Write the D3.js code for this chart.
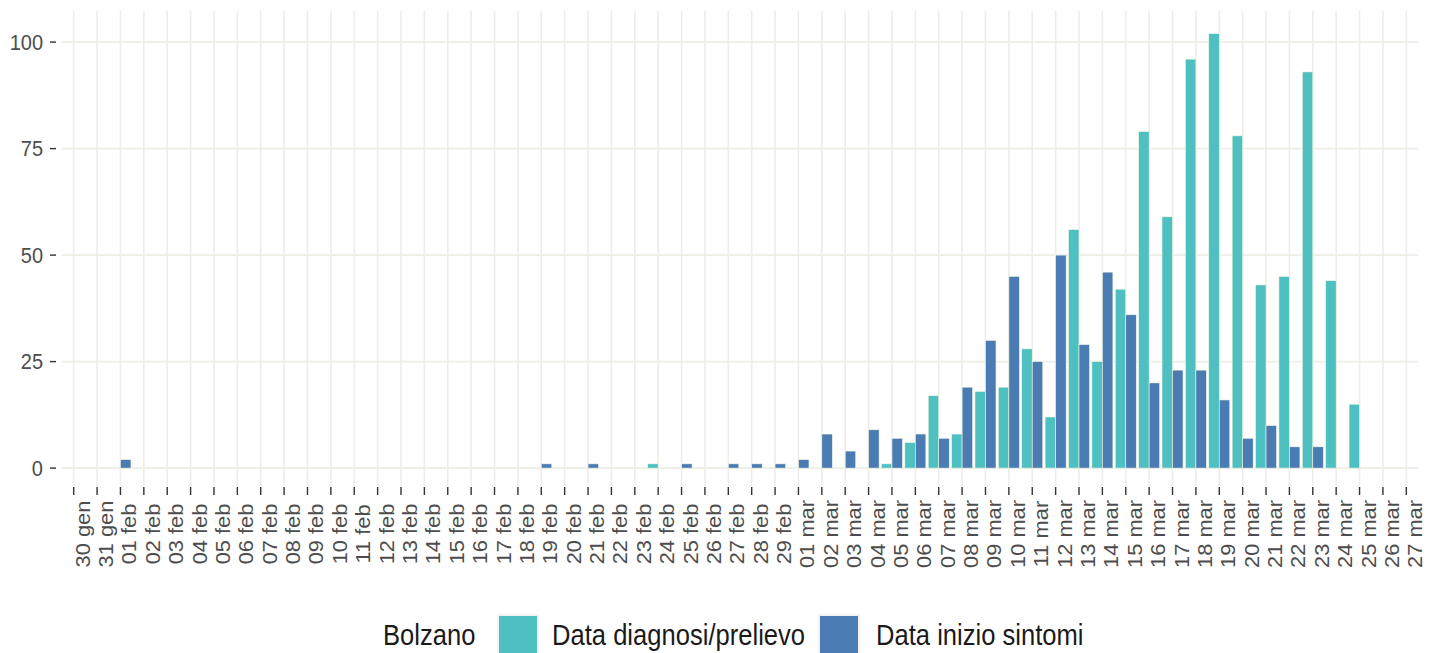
<!DOCTYPE html>
<html>
<head>
<meta charset="utf-8">
<script src="https://cdn.jsdelivr.net/npm/d3@7"></script>
<style>
  body { margin: 0; background: #fff; }
  text { font-family: "Liberation Sans", Arial, sans-serif; }
</style>
</head>
<body>
<div id="chart"></div>
<script>
// etichette giornaliere (30 gen - 27 mar)
const dayLabels = [
  "30 gen", "31 gen",
  "01 feb", "02 feb", "03 feb", "04 feb", "05 feb", "06 feb", "07 feb", "08 feb", "09 feb", "10 feb",
  "11 feb", "12 feb", "13 feb", "14 feb", "15 feb", "16 feb", "17 feb", "18 feb", "19 feb", "20 feb",
  "21 feb", "22 feb", "23 feb", "24 feb", "25 feb", "26 feb", "27 feb", "28 feb", "29 feb",
  "01 mar", "02 mar", "03 mar", "04 mar", "05 mar", "06 mar", "07 mar", "08 mar", "09 mar", "10 mar",
  "11 mar", "12 mar", "13 mar", "14 mar", "15 mar", "16 mar", "17 mar", "18 mar", "19 mar", "20 mar",
  "21 mar", "22 mar", "23 mar", "24 mar", "25 mar", "26 mar", "27 mar"
];

// Data diagnosi/prelievo
const diagnosi = [
  null, null,
  0, 0, 0, 0, 0, 0, 0, 0, 0, 0,
  0, 0, 0, 0, 0, 0, 0, 0, 0, 0,
  0, 0, 0, 1, 0, 0, 0, 0, 0,
  0, 0, 0, 0, 1, 6, 17, 8, 18, 19,
  28, 12, 56, 25, 42, 79, 59, 96, 102, 78,
  43, 45, 93, 44, 15, null, null
];

// Data inizio sintomi
const sintomi = [
  null, null,
  2, 0, 0, 0, 0, 0, 0, 0, 0, 0,
  0, 0, 0, 0, 0, 0, 0, 0, 1, 0,
  1, 0, 0, 0, 1, 0, 1, 1, 1,
  2, 8, 4, 9, 7, 8, 7, 19, 30, 45,
  25, 50, 29, 46, 36, 20, 23, 23, 16, 7,
  10, 5, 5, 0, null, null, null
];

const yTicks = [0, 25, 50, 75, 100];
const seriesNames = ["Data diagnosi/prelievo", "Data inizio sintomi"];
const seriesColors = ["#4fc0c1", "#4a7cb3"];
const legendTitle = "Bolzano";

const W = 1437, H = 653;
const panel = { left: 62, right: 1418, top: 11, bottom: 486 };
const sy = 1.12; // leggero allungamento verticale del testo

const svg = d3.select("#chart").append("svg")
  .attr("width", W)
  .attr("height", H);

const x = d3.scalePoint()
  .domain(dayLabels)
  .range([panel.left, panel.right])
  .padding(0.5);

const y = d3.scaleLinear()
  .domain([-4.2, 107.3])
  .range([panel.bottom, panel.top]);

const bw = x.step() * 0.45;

// griglia
const grid = svg.append("g");
grid.selectAll("line.v")
  .data(dayLabels)
  .join("line")
  .attr("x1", d => x(d)).attr("x2", d => x(d))
  .attr("y1", panel.top).attr("y2", panel.bottom)
  .attr("stroke", "#eeede6")
  .attr("stroke-width", 1.6);
grid.selectAll("line.h")
  .data(yTicks)
  .join("line")
  .attr("x1", panel.left).attr("x2", panel.right)
  .attr("y1", d => y(d)).attr("y2", d => y(d))
  .attr("stroke", "#eeede6")
  .attr("stroke-width", 1.6);

// barre
const rows = [];
dayLabels.forEach((d, i) => {
  if (diagnosi[i] !== null) rows.push({ day: d, value: diagnosi[i], s: 0 });
  if (sintomi[i] !== null) rows.push({ day: d, value: sintomi[i], s: 1 });
});

svg.append("g")
  .selectAll("rect")
  .data(rows)
  .join("rect")
  .attr("x", d => x(d.day) + (d.s === 0 ? -bw : 0))
  .attr("y", d => y(d.value))
  .attr("width", bw)
  .attr("height", d => y(0) - y(d.value))
  .attr("fill", d => seriesColors[d.s])
  .attr("stroke", "#f4f7e2")
  .attr("stroke-width", 0.6);

// asse x
const xAxis = svg.append("g");
xAxis.selectAll("line")
  .data(dayLabels)
  .join("line")
  .attr("x1", d => x(d)).attr("x2", d => x(d))
  .attr("y1", panel.bottom + 1).attr("y2", panel.bottom + 9)
  .attr("stroke", "#333")
  .attr("stroke-width", 1.4);
xAxis.selectAll("text")
  .data(dayLabels)
  .join("text")
  .attr("transform", d => `translate(${x(d) + 16},534) scale(1,${sy}) rotate(-90)`)
  .attr("text-anchor", "middle")
  .attr("font-size", 19.5)
  .attr("fill", "#4d4d4d")
  .text(d => d);

// asse y
const yAxis = svg.append("g");
yAxis.selectAll("line")
  .data(yTicks)
  .join("line")
  .attr("x1", 50).attr("x2", 56)
  .attr("y1", d => y(d)).attr("y2", d => y(d))
  .attr("stroke", "#333")
  .attr("stroke-width", 1.4);
yAxis.selectAll("text")
  .data(yTicks)
  .join("text")
  .attr("transform", d => `translate(43,${y(d) + 7.5}) scale(1,${sy})`)
  .attr("text-anchor", "end")
  .attr("font-size", 20)
  .attr("fill", "#4d4d4d")
  .text(d => d);

// legenda
const legend = svg.append("g");
legend.append("text")
  .attr("transform", `translate(383,645) scale(1,${sy})`)
  .attr("font-size", 25.6)
  .attr("fill", "#1a1a1a")
  .text(legendTitle);

const keyX = [497, 818];
const labelX = [552, 876];
seriesNames.forEach((name, i) => {
  legend.append("rect")
    .attr("x", keyX[i]).attr("y", 614)
    .attr("width", 42).attr("height", 42)
    .attr("fill", "#f2f2f2");
  legend.append("rect")
    .attr("x", keyX[i] + 2).attr("y", 616)
    .attr("width", 38).attr("height", 40)
    .attr("fill", seriesColors[i]);
  legend.append("text")
    .attr("transform", `translate(${labelX[i]},645) scale(1,${sy})`)
    .attr("font-size", 25.6)
    .attr("fill", "#1a1a1a")
    .text(name);
});
</script>
</body>
</html>
